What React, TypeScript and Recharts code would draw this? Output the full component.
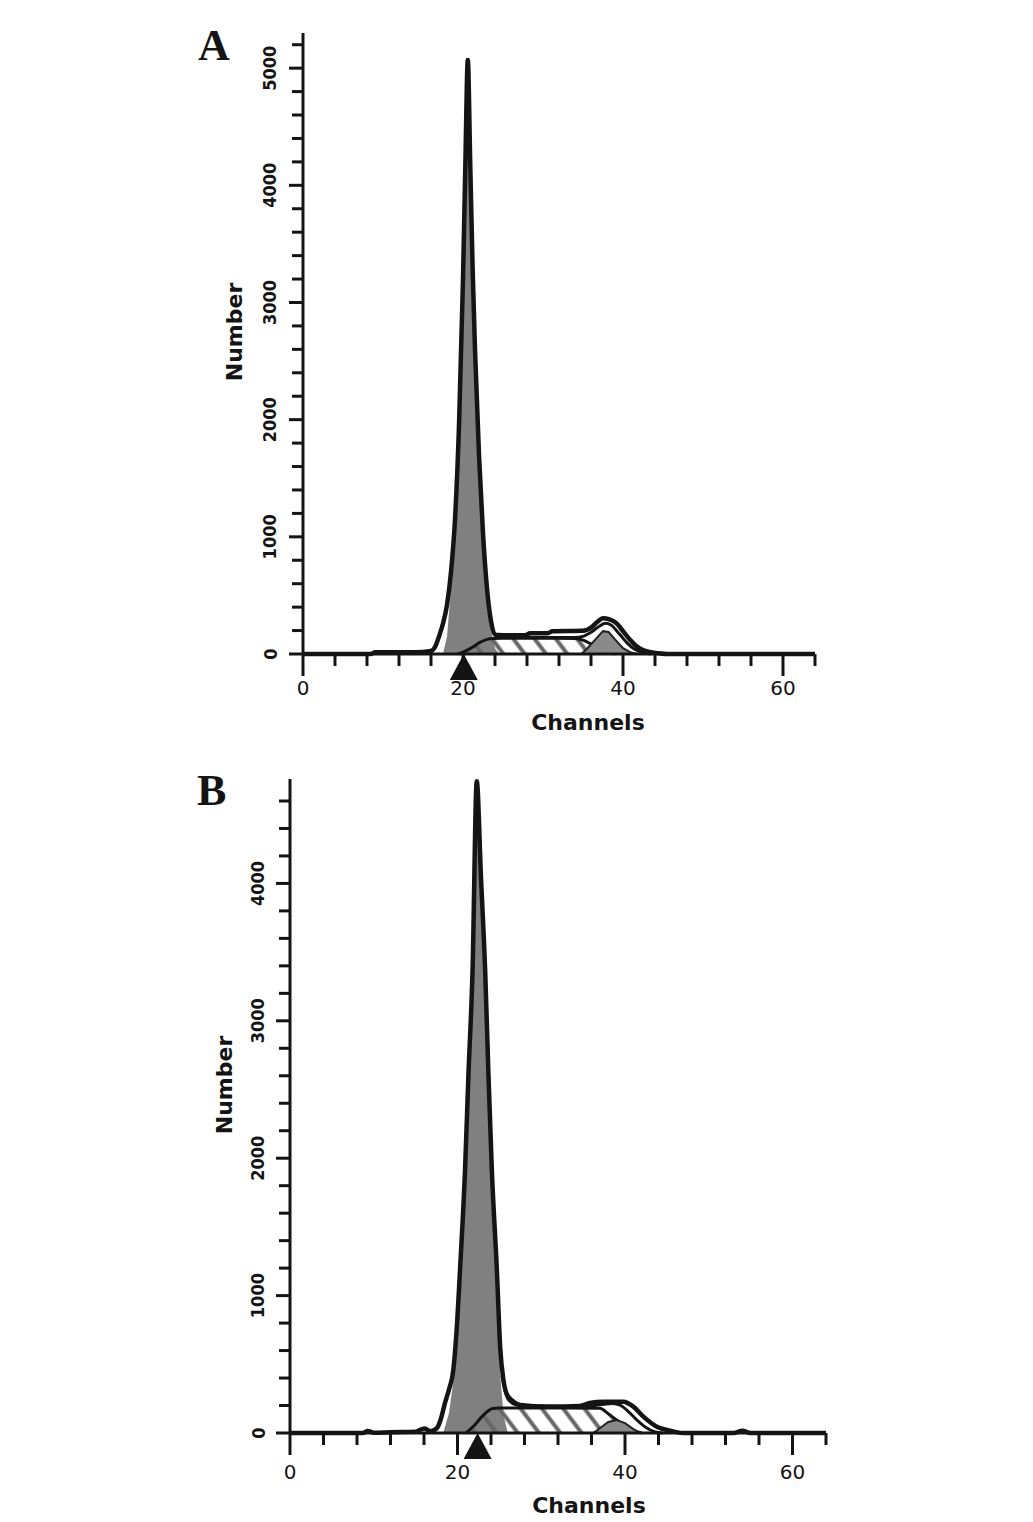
import React from 'react';
import { ComposedChart, Area, Line, XAxis, YAxis, ReferenceDot } from 'recharts';

// Two DNA histograms (A, B). Counts per channel.

const X_TICKS = [0, 4, 8, 12, 16, 20, 24, 28, 32, 36, 40, 44, 48, 52, 56, 60, 64];
const X_LABELS = [0, 20, 40, 60];
const Y_TICKS_A = [0, 200, 400, 600, 800, 1000, 1200, 1400, 1600, 1800, 2000, 2200, 2400, 2600, 2800, 3000, 3200, 3400, 3600, 3800, 4000, 4200, 4400, 4600, 4800, 5000, 5200];
const Y_TICKS_B = [0, 200, 400, 600, 800, 1000, 1200, 1400, 1600, 1800, 2000, 2200, 2400, 2600, 2800, 3000, 3200, 3400, 3600, 3800, 4000, 4200, 4400, 4600];
const Y_LABELS = [0, 1000, 2000, 3000, 4000, 5000];

// --- panel A ---
const TOTAL_A_CH = [0, 8.5, 9, 12, 15, 16, 16.5, 17, 17.5, 18, 18.5, 19, 19.5, 20, 20.3, 20.6, 20.9, 21.2, 21.5, 22, 22.5, 23, 23.5, 24, 26, 27.8, 28.4, 30.6, 31.2, 35, 36, 36.8, 37.5, 38.3, 39.2, 40, 40.9, 41.7, 42.5, 43.5, 44.5, 45.5, 64];
const TOTAL_A_N = [0, 0, 14, 15, 18, 25, 60, 150, 260, 420, 700, 1150, 1950, 3200, 4200, 5070, 4200, 3300, 2600, 1700, 1030, 560, 280, 165, 160, 160, 178, 178, 195, 198, 225, 275, 305, 295, 262, 195, 120, 65, 34, 15, 6, 0, 0];
const G1_A_CH = [17.5, 18, 18.5, 19, 19.5, 20, 20.3, 20.6, 20.9, 21.2, 21.5, 22, 22.5, 23, 23.5, 24, 24.5];
const G1_A_N = [0, 150, 560, 1050, 1880, 3130, 4130, 5000, 4130, 3240, 2540, 1640, 980, 500, 210, 50, 0];
const S_A_CH = [19.4, 20, 21, 22, 23, 23.8, 25, 30, 34, 35, 36, 37, 38, 39];
const S_A_N = [0, 15, 50, 95, 125, 133, 135, 135, 133, 118, 85, 48, 18, 0];
const G2_A_CH = [34.8, 35.5, 36.5, 37.5, 38.2, 39, 40, 41, 41.8];
const G2_A_N = [0, 45, 120, 195, 188, 125, 50, 12, 0];
const FIT_A_CH = [24, 34, 35, 36, 37, 37.8, 38.5, 39.5, 40.5, 41.5, 42.5, 43.5];
const FIT_A_N = [140, 140, 150, 185, 235, 262, 248, 175, 95, 38, 12, 0];
const MARK_A = 20.1;

// --- panel B ---
const TOTAL_B_CH = [0, 8.7, 9.3, 10, 12, 15, 15.6, 16.1, 16.7, 17.2, 17.6, 18, 18.5, 19, 19.5, 20, 20.3, 20.9, 21.3, 21.8, 22.3, 22.8, 23.3, 23.7, 24.1, 24.7, 25.1, 25.5, 25.9, 26.7, 27.5, 30.7, 34.6, 35.8, 37.4, 39.8, 41, 42.2, 43.8, 45, 46, 47, 53, 54, 55, 64];
const TOTAL_B_N = [0, 0, 14, 2, 6, 10, 25, 32, 14, 22, 40, 100, 218, 320, 459, 850, 1187, 1915, 2600, 3372, 4744, 4050, 3372, 2600, 1915, 1187, 620, 380, 280, 228, 204, 192, 197, 218, 228, 228, 192, 119, 46, 22, 8, 0, 0, 16, 0, 0];
const G1_B_CH = [18.3, 19, 19.5, 20, 20.3, 20.9, 21.3, 21.8, 22.3, 22.8, 23.3, 23.7, 24.1, 24.7, 25.1, 25.5, 26];
const G1_B_N = [0, 150, 380, 800, 1130, 1860, 2550, 3320, 4680, 4000, 3320, 2550, 1860, 1130, 420, 130, 0];
const S_B_CH = [21, 22, 23, 24.2, 25, 30, 37, 38, 39, 40, 41, 42];
const S_B_N = [0, 55, 125, 178, 182, 182, 180, 140, 95, 55, 20, 0];
const G2_B_CH = [36.2, 37, 38, 39, 40, 41, 41.8];
const G2_B_N = [0, 35, 80, 95, 72, 28, 0];
const FIT_B_CH = [25.3, 26, 27, 29, 35, 37, 38.5, 39.5, 40.5, 41.5, 42.5, 43.5, 44.5];
const FIT_B_N = [420, 250, 205, 188, 190, 205, 215, 200, 150, 90, 40, 10, 0];
const MARK_B = 22.4;

const INK = '#141414';

type Series = { key: string; ch: number[]; n: number[] };

function mergeRows(series: Series[]) {
  const map = new Map<number, any>();
  series.forEach((s) =>
    s.ch.forEach((c, i) => {
      const row = map.get(c) ?? { ch: c };
      row[s.key] = s.n[i];
      map.set(c, row);
    })
  );
  return [...map.values()].sort((a, b) => a.ch - b.ch);
}

function XTick(props: any) {
  const { x, y, payload, labelDy } = props;
  const major = X_LABELS.includes(payload.value);
  return (
    <g>
      <line x1={x} x2={x} y1={y} y2={y + (major ? 22 : 12)} stroke={INK} strokeWidth={3} />
      {major && (
        <text x={x} y={y + labelDy} textAnchor="middle" fontSize={20} fontFamily="DejaVu Sans" fill={INK}>
          {payload.value}
        </text>
      )}
    </g>
  );
}

function YTick(props: any) {
  const { x, y, payload, labelDx } = props;
  const major = Y_LABELS.includes(payload.value);
  const tx = x - labelDx;
  return (
    <g>
      <line x1={x - (major ? 14 : 11)} x2={x} y1={y} y2={y} stroke={INK} strokeWidth={3} />
      {major && (
        <text
          x={tx}
          y={y}
          transform={`rotate(-90, ${tx}, ${y})`}
          textAnchor="middle"
          dominantBaseline="central"
          fontSize={18}
          fontWeight="bold"
          fontFamily="DejaVu Sans Condensed, DejaVu Sans"
          fill={INK}
        >
          {payload.value}
        </text>
      )}
    </g>
  );
}

type PanelProps = {
  id: string;
  height: number;
  margin: { top: number; right: number; bottom: number; left: number };
  axisX: number;
  yMax: number;
  yTicks: number[];
  rows: any[];
  mark: number;
  xLabelDy: number;
  yLabelDx: number;
};

function Panel({ id, height, margin, axisX, yMax, yTicks, rows, mark, xLabelDy, yLabelDx }: PanelProps) {
  const hatch = `hatch-${id}`;
  return (
    <ComposedChart width={1033} height={height} data={rows} margin={margin}>
      <defs>
        <pattern id={hatch} patternUnits="userSpaceOnUse" width={17} height={17} patternTransform="rotate(-37)">
          <line x1={8.5} y1={0} x2={8.5} y2={17} stroke="#666666" strokeWidth={4} />
        </pattern>
      </defs>
      <XAxis
        dataKey="ch"
        type="number"
        domain={[0, 64]}
        ticks={X_TICKS}
        interval={0}
        height={60}
        tickSize={0}
        tickMargin={0}
        tickLine={false}
        axisLine={{ stroke: INK, strokeWidth: 3 }}
        tick={(p: any) => <XTick {...p} labelDy={xLabelDy} />}
      />
      <YAxis
        type="number"
        domain={[0, yMax]}
        ticks={yTicks}
        interval={0}
        width={axisX}
        tickSize={0}
        tickMargin={0}
        tickLine={false}
        axisLine={{ stroke: INK, strokeWidth: 3 }}
        tick={(p: any) => <YTick {...p} labelDx={yLabelDx} />}
      />
      <Area
        dataKey="g1"
        type="linear"
        fill="#808080"
        fillOpacity={1}
        stroke="none"
        connectNulls
        dot={false}
        activeDot={false}
        isAnimationActive={false}
      />
      <Area
        dataKey="s"
        type="monotoneX"
        fill={`url(#${hatch})`}
        fillOpacity={1}
        stroke={INK}
        strokeWidth={3}
        connectNulls
        dot={false}
        activeDot={false}
        isAnimationActive={false}
      />
      <Area
        dataKey="g2"
        type="linear"
        fill="#8a8a8a"
        fillOpacity={1}
        stroke="#222"
        strokeWidth={2}
        connectNulls
        dot={false}
        activeDot={false}
        isAnimationActive={false}
      />
      <Line
        dataKey="fit"
        type="monotoneX"
        stroke={INK}
        strokeWidth={3}
        connectNulls
        dot={false}
        activeDot={false}
        isAnimationActive={false}
      />
      <Line
        dataKey="total"
        type="monotoneX"
        stroke={INK}
        strokeWidth={4.5}
        strokeLinejoin="round"
        connectNulls
        dot={false}
        activeDot={false}
        isAnimationActive={false}
      />
      <ReferenceDot
        x={mark}
        y={0}
        r={0}
        ifOverflow="visible"
        shape={(p: any) => (
          <polygon points={`${p.cx},${p.cy} ${p.cx - 14},${p.cy + 26} ${p.cx + 14},${p.cy + 26}`} fill={INK} />
        )}
      />
    </ComposedChart>
  );
}

const rowsA = mergeRows([
  { key: 'total', ch: TOTAL_A_CH, n: TOTAL_A_N },
  { key: 'g1', ch: G1_A_CH, n: G1_A_N },
  { key: 's', ch: S_A_CH, n: S_A_N },
  { key: 'g2', ch: G2_A_CH, n: G2_A_N },
  { key: 'fit', ch: FIT_A_CH, n: FIT_A_N },
]);

const rowsB = mergeRows([
  { key: 'total', ch: TOTAL_B_CH, n: TOTAL_B_N },
  { key: 'g1', ch: G1_B_CH, n: G1_B_N },
  { key: 's', ch: S_B_CH, n: S_B_N },
  { key: 'g2', ch: G2_B_CH, n: G2_B_N },
  { key: 'fit', ch: FIT_B_CH, n: FIT_B_N },
]);

const LABEL_FONT = { fontSize: 22, fontFamily: 'DejaVu Sans', fontWeight: 'bold' as const, fill: INK };

export default function App() {
  return (
    <div style={{ position: 'absolute', left: 0, top: 0, width: 1033, height: 1522, background: '#fff', overflow: 'hidden' }}>
      <div style={{ position: 'absolute', left: 0, top: 0 }}>
        <Panel
          id="a"
          height={760}
          margin={{ top: 33, right: 218, bottom: 46, left: 0 }}
          axisX={303}
          yMax={5300}
          yTicks={Y_TICKS_A}
          rows={rowsA}
          mark={MARK_A}
          xLabelDy={41}
          yLabelDx={33}
        />
      </div>
      <div style={{ position: 'absolute', left: 0, top: 760 }}>
        <Panel
          id="b"
          height={762}
          margin={{ top: 19, right: 207, bottom: 29, left: 0 }}
          axisX={290}
          yMax={4760}
          yTicks={Y_TICKS_B}
          rows={rowsB}
          mark={MARK_B}
          xLabelDy={46}
          yLabelDx={32}
        />
      </div>
      <svg width={1033} height={1522} style={{ position: 'absolute', left: 0, top: 0, pointerEvents: 'none' }}>
        <text x={198} y={60} fontFamily="Liberation Serif" fontWeight="bold" fontSize={44} fill={INK}>A</text>
        <text x={197} y={805} fontFamily="Liberation Serif" fontWeight="bold" fontSize={44} fill={INK}>B</text>
        <text transform="translate(242,332) rotate(-90)" textAnchor="middle" {...LABEL_FONT}>Number</text>
        <text transform="translate(232,1085) rotate(-90)" textAnchor="middle" {...LABEL_FONT}>Number</text>
        <text x={588} y={730} textAnchor="middle" {...LABEL_FONT}>Channels</text>
        <text x={589} y={1513} textAnchor="middle" {...LABEL_FONT}>Channels</text>
      </svg>
    </div>
  );
}
